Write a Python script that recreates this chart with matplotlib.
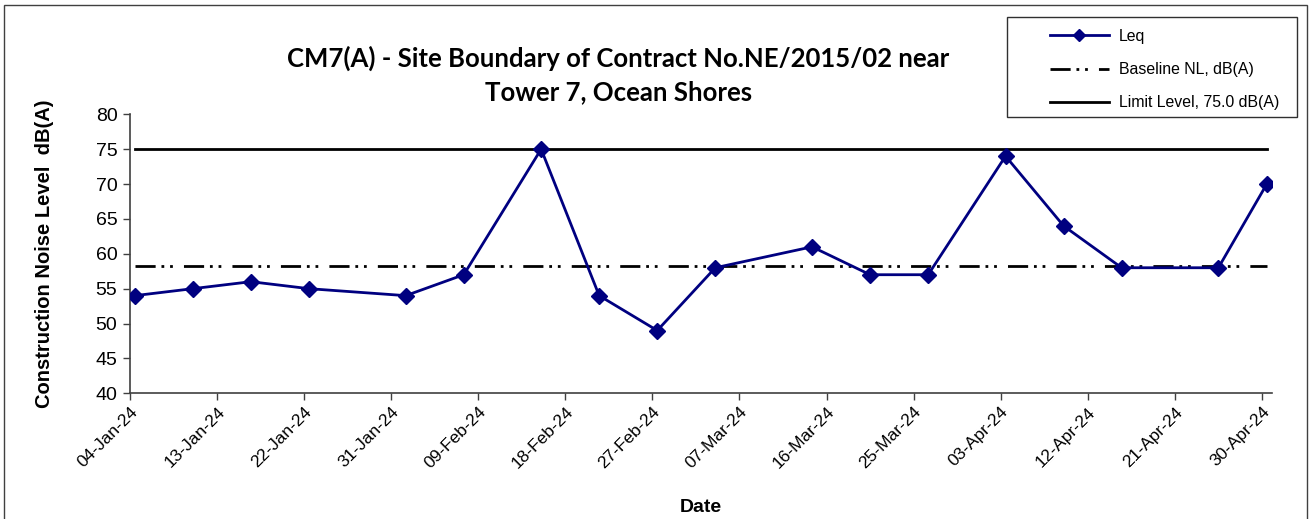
import matplotlib
matplotlib.use("Agg")
import matplotlib.pyplot as plt
import matplotlib.dates as mdates
from matplotlib.patches import Rectangle
from matplotlib.lines import Line2D
import pandas as pd

# monitoring data, CM7(A)
dates = ["2024-01-04 12:00", "2024-01-10 12:00", "2024-01-16 12:00", "2024-01-22 12:00",
         "2024-02-01 12:00", "2024-02-07 12:00", "2024-02-15 12:00", "2024-02-21 12:00",
         "2024-02-27 12:00", "2024-03-04 12:00", "2024-03-14 12:00", "2024-03-20 12:00",
         "2024-03-26 12:00", "2024-04-03 12:00", "2024-04-09 12:00", "2024-04-15 12:00",
         "2024-04-25 12:00", "2024-04-30 12:00"]
leq = [54, 55, 56, 55, 54, 57, 75, 54, 49, 58, 61, 57, 57, 74, 64, 58, 58, 70]
baseline = 58.3
limit = 75.0

tick_dates = pd.date_range("2024-01-04", "2024-04-30", freq="9D")
x_start, x_end = "2024-01-04", "2024-05-01"

dates = pd.to_datetime(dates)

plt.rcParams['font.family'] = ['Liberation Sans', 'DejaVu Sans']
plt.rcParams['lines.scale_dashes'] = False
dash_dot_dot = [14.5, 4.2, 2, 4.2, 2, 8]

fig = plt.figure(figsize=(13.1, 5.19), dpi=100)
ax = fig.add_axes([0.0992, 0.2422, 0.8715, 0.5376])

ax.plot([dates[0], dates[-1]], [limit, limit], color='black', lw=2.0, zorder=2)
bl, = ax.plot([dates[0], dates[-1]], [baseline, baseline], color='black', lw=2.0, zorder=2)
bl.set_dashes(dash_dot_dot)
ax.plot(dates, leq, color='#000080', lw=2.0, marker='D', markersize=8,
        markerfacecolor='#000080', markeredgecolor='#000080', zorder=3)

ax.set_ylim(40, 80)
ax.set_yticks(range(40, 81, 5))
ax.set_xlim(pd.Timestamp(x_start), pd.Timestamp(x_end))
ax.set_xticks(tick_dates)
ax.xaxis.set_major_formatter(mdates.DateFormatter('%d-%b-%y'))
ax.tick_params(axis='y', labelsize=14, direction='out', length=5, width=1, color='#404040', pad=4)
ax.tick_params(axis='x', labelsize=12.5, direction='out', length=5, width=1, color='#404040', pad=3)
for lab in ax.get_xticklabels():
    lab.set_rotation(45)
    lab.set_ha('right')
    lab.set_rotation_mode('anchor')

for s in ['top', 'right']:
    ax.spines[s].set_visible(False)
for s in ['left', 'bottom']:
    ax.spines[s].set_color('#404040')
    ax.spines[s].set_linewidth(1.2)

ax.set_ylabel('Construction Noise Level  dB(A)', fontsize=14.5, fontweight='bold', labelpad=30)
ax.set_xlabel('Date', fontsize=14, fontweight='bold', labelpad=20)

fig.text(0.472, 1 - 75 / 519,
         'CM7(A) - Site Boundary of Contract No.NE/2015/02 near\nTower 7, Ocean Shores',
         ha='center', va='center', fontsize=18.5, fontweight='bold',
         family=['Lato', 'DejaVu Sans'], linespacing=1.45)

# legend box
fig.patches.append(Rectangle((1007 / 1310, 1 - 117 / 519), 290 / 1310, 100 / 519,
                             transform=fig.transFigure, fill=False,
                             edgecolor='#303030', lw=1.0))
handles = [
    Line2D([], [], color='#000080', lw=2.0, marker='D', markersize=6),
    Line2D([], [], color='black', lw=2.0, dashes=dash_dot_dot),
    Line2D([], [], color='black', lw=2.0),
]
labels = ['Leq', 'Baseline NL, dB(A)', 'Limit Level, 75.0 dB(A)']
fig.legend(handles, labels, loc='upper left', bbox_to_anchor=(1042 / 1310, 1 - 21 / 519),
           bbox_transform=fig.transFigure, frameon=False, fontsize=11.4,
           handlelength=3.7, handletextpad=0.65, labelspacing=1.15, borderpad=0)

# outer chart border
fig.patches.append(Rectangle((4 / 1310, -0.02), 1303 / 1310, 1.02 - 5 / 519,
                             transform=fig.transFigure, fill=False,
                             edgecolor='#404040', lw=1.0))

fig.savefig('out.png', dpi=100)
